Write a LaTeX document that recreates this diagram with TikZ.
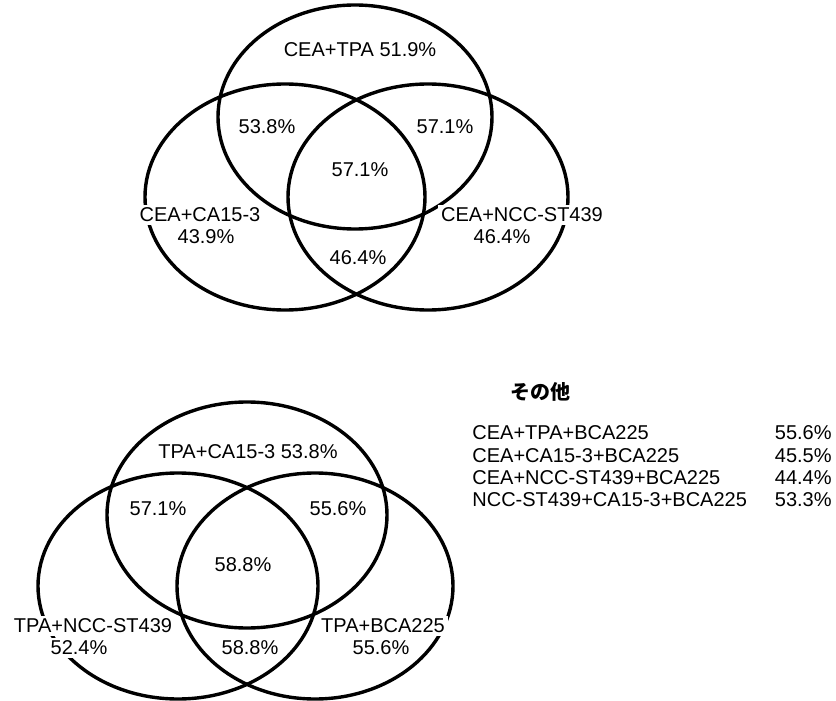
\documentclass[tikz,border=0pt]{standalone}
\usepackage{fontspec}
\setmainfont{Liberation Sans}
\newfontfamily\jpfont{Noto Sans CJK JP}

\begin{document}
\begin{tikzpicture}[
    x=0.5pt, y=-0.5pt,
    ring/.style={draw=black, line width=1.7pt},
    every node/.style={inner sep=0pt, font=\fontsize{10}{11.5}\selectfont},
    tag/.style={fill=white, inner sep=1.5pt},
    combo/.style={anchor=west},
    rate/.style={anchor=east}
]
\useasboundingbox (0,0) rectangle (836,701);

% Upper diagram
\draw[ring] (355,117) ellipse [x radius=137, y radius=112];
\draw[ring] (285,197) ellipse [x radius=140, y radius=113];
\draw[ring] (428,197) ellipse [x radius=140, y radius=113];

\node (ctpa) at (360,50) {CEA+TPA 51.9\%};
\node (ctl) at (267,127) {53.8\%};
\node (ctr) at (445,127) {57.1\%};
\node (cmid) at (360,170) {57.1\%};
\node[tag] (cca) at (200,215) {CEA+CA15-3};
\node[tag] (ccav) at (206,237) {43.9\%};
\node[tag] (cncc) at (522,215) {CEA+NCC-ST439};
\node[tag] (cnccv) at (502,237) {46.4\%};
\node (cbot) at (358,258) {46.4\%};

% Lower diagram
\draw[ring] (247,515) ellipse [x radius=140, y radius=113];
\draw[ring] (178,586) ellipse [x radius=140, y radius=113];
\draw[ring] (315,586) ellipse [x radius=138, y radius=113];

\node (tca) at (248,452) {TPA+CA15-3 53.8\%};
\node (ttl) at (158,509) {57.1\%};
\node (ttr) at (338,509) {55.6\%};
\node (tmid) at (243,565) {58.8\%};
\node[tag] (tncc) at (93,626) {TPA+NCC-ST439};
\node[tag] (tnccv) at (79,648) {52.4\%};
\node[tag] (tbca) at (383,626) {TPA+BCA225};
\node[tag] (tbcav) at (381,648) {55.6\%};
\node (tbot) at (250,648) {58.8\%};

% Others
\node (other) at (540,392) {\jpfont\bfseries その他};
\node[combo] (r1) at (472,433) {CEA+TPA+BCA225};
\node[combo] (r2) at (472,456) {CEA+CA15-3+BCA225};
\node[combo] (r3) at (472,478) {CEA+NCC-ST439+BCA225};
\node[combo] (r4) at (472,500) {NCC-ST439+CA15-3+BCA225};
\node[rate] (v1) at (832,433) {55.6\%};
\node[rate] (v2) at (832,456) {45.5\%};
\node[rate] (v3) at (832,478) {44.4\%};
\node[rate] (v4) at (832,500) {53.3\%};
\end{tikzpicture}
\end{document}
